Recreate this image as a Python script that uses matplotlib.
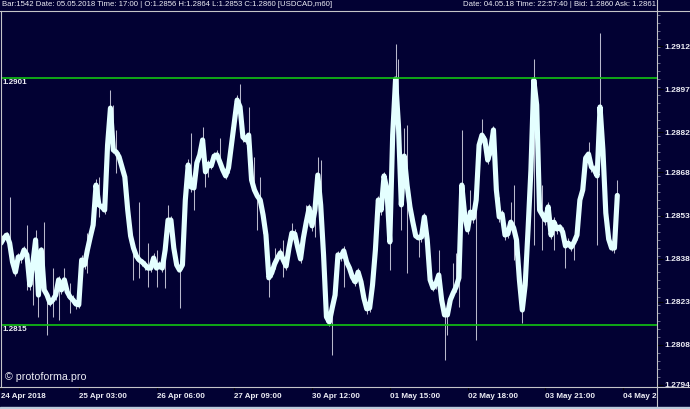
import numpy as np
import matplotlib
matplotlib.use("Agg")
import matplotlib.pyplot as plt
from matplotlib.lines import Line2D
from matplotlib.patches import Rectangle
from matplotlib.ticker import AutoMinorLocator
from matplotlib.transforms import Bbox, TransformedBbox, blended_transform_factory

# USDCAD H1 closes, 24 Apr 2018 00:00 -> 04 May 2018 22:00 (one value per bar)
closes = [
    1.28434, 1.28452, 1.28462, 1.28434, 1.28368, 1.28333, 1.28386, 1.28382, 1.28410, 1.28393,
    1.28288, 1.28358, 1.28445, 1.28253, 1.28410, 1.28271, 1.28253, 1.28226, 1.28236, 1.28253,
    1.28306, 1.28271, 1.28306, 1.28264, 1.28246, 1.28236, 1.28222, 1.28219, 1.28375, 1.28358,
    1.28410, 1.28455, 1.28497, 1.28636, 1.28567, 1.28560, 1.28549, 1.28775, 1.28904, 1.28758,
    1.28751, 1.28734, 1.28699, 1.28664, 1.28549, 1.28459, 1.28417, 1.28389, 1.28375, 1.28368,
    1.28358, 1.28347, 1.28347, 1.28382, 1.28347, 1.28358, 1.28347, 1.28410, 1.28514, 1.28514,
    1.28417, 1.28358, 1.28340, 1.28358, 1.28584, 1.28706, 1.28629, 1.28626, 1.28713, 1.28741,
    1.28793, 1.28682, 1.28709, 1.28703, 1.28737, 1.28741, 1.28716, 1.28689, 1.28668, 1.28696,
    1.28775, 1.28855, 1.28932, 1.28908, 1.28803, 1.28793, 1.28810, 1.28654, 1.28619, 1.28598,
    1.28584, 1.28532, 1.28462, 1.28313, 1.28330, 1.28361, 1.28382, 1.28400, 1.28375, 1.28354,
    1.28417, 1.28469, 1.28466, 1.28420, 1.28379, 1.28452, 1.28507, 1.28556, 1.28494, 1.28549,
    1.28671, 1.28567, 1.28393, 1.28177, 1.28159, 1.28208, 1.28253, 1.28393, 1.28386, 1.28407,
    1.28368, 1.28347, 1.28316, 1.28299, 1.28333, 1.28299, 1.28243, 1.28205, 1.28208, 1.28288,
    1.28410, 1.28584, 1.28549, 1.28668, 1.28619, 1.28438, 1.28810, 1.29005, 1.28845, 1.28567,
    1.28737, 1.28636, 1.28560, 1.28507, 1.28459, 1.28452, 1.28455, 1.28525, 1.28445, 1.28306,
    1.28278, 1.28292, 1.28323, 1.28236, 1.28184, 1.28184, 1.28236, 1.28260, 1.28281, 1.28313,
    1.28636, 1.28532, 1.28480, 1.28542, 1.28521, 1.28584, 1.28775, 1.28810, 1.28793, 1.28723,
    1.28758, 1.28828, 1.28619, 1.28525, 1.28535, 1.28462, 1.28466, 1.28507, 1.28487, 1.28445,
    1.28306, 1.28201, 1.28288, 1.28480, 1.28689, 1.29002, 1.28915, 1.28549, 1.28532, 1.28514,
    1.28560, 1.28462, 1.28507, 1.28483, 1.28490, 1.28473, 1.28424, 1.28434, 1.28420, 1.28438,
    1.28462, 1.28584, 1.28619, 1.28730, 1.28744, 1.28699, 1.28689, 1.28668, 1.28908, 1.28758,
    1.28539, 1.28448, 1.28417, 1.28417, 1.28600,
]

# upper / lower shadow of each bar, in points (0.00001)
wick_up = [
    14, 18, 12, 160, 15, 20, 12, 16, 14, 104,
    18, 20, 35, 15, 12, 237, 14, 18, 111, 16,
    15, 14, 42, 12, 49, 16, 14, 12, 18, 15,
    59, 14, 16, 20, 97, 15, 12, 18, 63, 157,
    77, 16, 14, 12, 18, 15, 14, 16, 202, 12,
    15, 87, 14, 16, 63, 12, 18, 14, 52, 16,
    15, 12, 18, 14, 16, 20, 188, 15, 14, 16,
    45, 12, 15, 18, 14, 16, 84, 12, 18, 15,
    63, 14, 16, 80, 12, 15, 97, 18, 115, 14,
    80, 16, 12, 15, 18, 56, 14, 16, 70, 12,
    15, 35, 18, 14, 16, 12, 60, 15, 14, 18,
    63, 157, 14, 12, 16, 18, 15, 14, 12, 16,
    18, 14, 15, 12, 16, 18, 14, 15, 12, 16,
    18, 14, 16, 15, 12, 18, 14, 122, 230, 16,
    97, 209, 14, 18, 15, 12, 16, 14, 18, 15,
    12, 16, 87, 14, 18, 15, 12, 104, 118, 16,
    191, 14, 18, 77, 15, 12, 16, 56, 14, 18,
    15, 12, 16, 70, 14, 18, 15, 70, 150, 16,
    14, 18, 15, 139, 16, 73, 14, 18, 104, 12,
    16, 14, 18, 15, 12, 16, 14, 18, 15, 12,
    16, 14, 18, 15, 42, 12, 16, 14, 258, 18,
    15, 12, 16, 14, 52,
]
wick_dn = [
    15, 12, 18, 14, 16, 12, 15, 18, 14, 122,
    16, 140, 14, 77, 18, 15, 139, 12, 59, 16,
    139, 15, 12, 18, 56, 14, 16, 12, 59, 15,
    80, 14, 18, 12, 42, 16, 15, 14, 18, 12,
    73, 16, 15, 14, 12, 18, 111, 15, 63, 14,
    16, 66, 12, 18, 66, 15, 14, 132, 16, 12,
    18, 15, 132, 14, 16, 12, 18, 77, 15, 14,
    16, 52, 45, 12, 18, 15, 14, 16, 12, 18,
    15, 14, 16, 12, 18, 15, 14, 16, 12, 118,
    18, 63, 15, 66, 14, 16, 12, 18, 59, 15,
    14, 16, 12, 18, 15, 14, 16, 12, 18, 94,
    15, 14, 170, 16, 12, 164, 18, 15, 14, 125,
    16, 12, 18, 15, 14, 16, 12, 18, 15, 14,
    16, 12, 18, 15, 14, 97, 16, 12, 18, 87,
    15, 306, 14, 16, 12, 66, 18, 15, 14, 16,
    12, 18, 15, 14, 157, 70, 16, 12, 18, 101,
    15, 14, 16, 12, 18, 487, 15, 14, 16, 12,
    18, 15, 14, 16, 12, 18, 15, 14, 111, 16,
    12, 45, 18, 15, 14, 574, 16, 12, 122, 18,
    15, 14, 97, 16, 12, 18, 77, 15, 14, 63,
    16, 12, 18, 15, 14, 16, 12, 240, 18, 15,
    14, 16, 12, 18, 59,
]

level_hi = 1.2901
level_lo = 1.2815

price_ticks = [1.2912, 1.2897, 1.2882, 1.2868, 1.2853, 1.2838, 1.2823, 1.2808, 1.2794]
time_ticks = [0, 27, 54, 81, 108, 135, 162, 189, 216]
time_labels = ["24 Apr 2018", "25 Apr 03:00", "26 Apr 06:00", "27 Apr 09:00", "30 Apr 12:00",
               "01 May 15:00", "02 May 18:00", "03 May 21:00", "04 May 23:00"]

header_left = "Bar:1542 Date: 05.05.2018 Time: 17:00 | O:1.2856 H:1.2864 L:1.2853 C:1.2860 [USDCAD,m60]"
header_right = "Date: 04.05.18 Time: 22:57:40 | Bid: 1.2860 Ask: 1.2861"

bg = "#020133"
fg = "#ececf4"
plt.rcParams["font.family"] = ["Liberation Sans", "DejaVu Sans"]

W, H = 690, 409
fig = plt.figure(figsize=(W / 100, H / 100), dpi=100, facecolor=bg)
ax = fig.add_axes([1 / W, 22 / H, 656 / W, 376 / H], facecolor=bg)

c = np.array(closes)
hi = c + np.array(wick_up) * 1e-5
lo = c - np.array(wick_dn) * 1e-5
idx = np.arange(len(c))

ax.vlines(idx, lo, hi, color="#b8b8cc", lw=0.75, zorder=2)
ax.plot(idx, c, color="#e4ffff", lw=3.7, solid_joinstyle="round", solid_capstyle="round", zorder=3)

ax.axhline(level_hi, color="#12c412", lw=1.2, zorder=4)
ax.axhline(level_lo, color="#12c412", lw=1.2, zorder=4)
tr = blended_transform_factory(ax.transAxes, ax.transData)
for lv in (level_hi, level_lo):
    ax.annotate(f"{lv:.4f}", (0.003, lv), xycoords=tr, xytext=(0, -1.2), textcoords="offset points",
                va="top", ha="left", color=fg, fontsize=5.8, fontweight="bold")

ax.set_xlim(0, 656 / 2.88)
ax.set_ylim(1.27933, 1.29242)
for s in ax.spines.values():
    s.set_visible(False)

ax.yaxis.tick_right()
ax.set_yticks(price_ticks, [f"{p:.4f}" for p in price_ticks])
ax.yaxis.set_minor_locator(AutoMinorLocator(5))
ax.tick_params(axis="y", which="major", length=4.3, width=0.8, color="black", pad=1.0,
               labelcolor=fg, labelsize=6.0)
ax.tick_params(axis="y", which="minor", length=2.2, width=0.7, color="#6a6a8a")
for lab in ax.get_yticklabels():
    lab.set_fontweight("bold")
    lab.set_clip_box(TransformedBbox(Bbox.from_extents(0, 22 / H, 1, 1), fig.transFigure))

ax.set_xticks(time_ticks, time_labels)
ax.tick_params(axis="x", length=2, width=0.8, color="black", pad=2.5, labelcolor=fg, labelsize=5.8)
for lab in ax.get_xticklabels():
    lab.set_ha("left")
    lab.set_fontweight("bold")
    lab.set_clip_box(TransformedBbox(Bbox.from_extents(0, 0, 657 / W, 1), fig.transFigure))

# frame lines of the terminal window
edge = "#c4c4c8"
fig.add_artist(Line2D([0, 1], [398 / H, 398 / H], transform=fig.transFigure, color=edge, lw=0.8, zorder=5))
fig.add_artist(Line2D([0, 1], [22 / H, 22 / H], transform=fig.transFigure, color=edge, lw=0.8, zorder=5))
fig.add_artist(Line2D([657 / W, 657 / W], [2 / H, 1], transform=fig.transFigure, color=edge, lw=0.8, zorder=5))
fig.add_artist(Line2D([0.5 / W, 0.5 / W], [22 / H, 398 / H], transform=fig.transFigure, color=edge, lw=0.8, zorder=5))
fig.add_artist(Rectangle((0, 0), 1, 2 / H, transform=fig.transFigure, color="#bccbdc", zorder=5))

fig.text(2 / W, 404 / H, header_left, color=fg, fontsize=5.6, va="center", ha="left")
fig.text(656 / W, 404 / H, header_right, color=fg, fontsize=5.6, va="center", ha="right")
fig.text(5 / W, 32 / H, "© protoforma.pro", color=fg, fontsize=7.7, va="center", ha="left")

fig.savefig("out.png", dpi=100, facecolor=bg)
